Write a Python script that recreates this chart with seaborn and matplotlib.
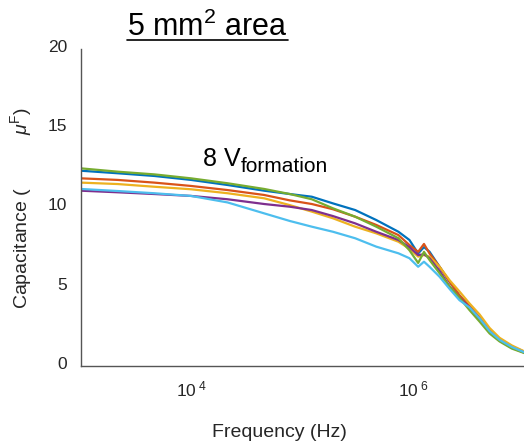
import matplotlib
matplotlib.use("Agg")
import matplotlib.pyplot as plt
from matplotlib.lines import Line2D
from matplotlib.transforms import ScaledTranslation
import seaborn as sns
import pandas as pd

# ---- data ----
freq_hz = [1e3, 2.14e3, 4.57e3, 9.8e3, 2.09e4, 4.47e4, 7.6e4, 1.2e5, 1.86e5,
           2.95e5, 4.57e5, 7.24e5, 9.1e5, 1.09e6, 1.23e6, 1.38e6, 1.7e6,
           2.1e6, 2.57e6, 3.16e6, 3.9e6, 4.8e6, 5.9e6, 7.6e6, 1e7]
cap_s1 = [12.32, 12.16, 11.99, 11.74, 11.42, 11.06, 10.85, 10.68, 10.26, 9.84,
          9.21, 8.47, 7.95, 7.1, 7.5, 7.21, 6.26, 5.3, 4.45, 3.75, 3.0, 2.2,
          1.65, 1.2, 0.85]
cap_s2 = [11.84, 11.74, 11.57, 11.36, 11.1, 10.79, 10.45, 10.22, 9.89, 9.42,
          8.9, 8.26, 7.63, 7.2, 7.7, 7.1, 6.26, 5.3, 4.45, 3.8, 3.05, 2.25,
          1.7, 1.25, 0.88]
cap_s3 = [11.57, 11.48, 11.31, 11.15, 10.9, 10.58, 10.15, 9.74, 9.32, 8.79,
          8.37, 7.84, 7.4, 6.9, 7.0, 6.9, 6.26, 5.4, 4.7, 3.95, 3.25, 2.4,
          1.78, 1.3, 0.9]
cap_s4 = [11.06, 10.96, 10.85, 10.73, 10.52, 10.22, 10.05, 9.84, 9.46, 9.0,
          8.47, 7.95, 7.5, 7.0, 7.05, 6.8, 6.0, 5.0, 4.3, 3.7, 2.95, 2.15,
          1.6, 1.15, 0.82]
cap_s5 = [12.47, 12.26, 12.09, 11.84, 11.53, 11.17, 10.85, 10.52, 9.95, 9.42,
          8.79, 8.06, 7.3, 6.5, 7.2, 6.69, 5.85, 5.0, 4.3, 3.53, 2.8, 2.05,
          1.55, 1.1, 0.8]
cap_s6 = [11.17, 11.04, 10.9, 10.73, 10.32, 9.63, 9.15, 8.79, 8.47, 8.06,
          7.53, 7.11, 6.8, 6.26, 6.58, 6.26, 5.63, 4.85, 4.15, 3.7, 3.0, 2.2,
          1.65, 1.2, 0.85]
series_names = ["S1", "S2", "S3", "S4", "S5", "S6"]
series_vals = [cap_s1, cap_s2, cap_s3, cap_s4, cap_s5, cap_s6]
colors = ["#0072BD", "#D95319", "#EDB120", "#7E2F8E", "#77AC30", "#4DBEEE"]
y_ticks = [0, 5, 10, 15, 20]
x_ticks = [1e4, 1e6]
x_tick_labels = [r"$\mathregular{10^{\ 4}}$", r"$\mathregular{10^{\ 6}}$"]

rows = []
for name, vals in zip(series_names, series_vals):
    for f, c in zip(freq_hz, vals):
        rows.append({"freq": f, "cap": c, "series": name})
df = pd.DataFrame(rows)

sns.set_style("white")
plt.rcParams["font.family"] = ["Liberation Sans", "DejaVu Sans"]
plt.rcParams["mathtext.fontset"] = "custom"
plt.rcParams["mathtext.rm"] = "Liberation Sans"
plt.rcParams["mathtext.it"] = "Liberation Sans:italic"
plt.rcParams["mathtext.bf"] = "Liberation Sans:bold"

fig = plt.figure(figsize=(5.24, 4.42), dpi=100)
ax = fig.add_axes([81 / 524, 76 / 442, 444 / 524, 317 / 442])

sns.lineplot(data=df, x="freq", y="cap", hue="series", palette=colors,
             linewidth=1.6, legend=False, ax=ax, sort=False)

ax.set_xscale("log")
ax.set_xlim(1e3, 1e7)
ax.set_ylim(0, 20)
ax.set_xticks(x_ticks)
ax.set_xticklabels(x_tick_labels)
ax.xaxis.set_minor_locator(matplotlib.ticker.NullLocator())
ax.set_yticks(y_ticks)
ax.set_yticklabels([str(v) for v in y_ticks])

for s in ["top", "right"]:
    ax.spines[s].set_visible(False)
for s in ["left", "bottom"]:
    ax.spines[s].set_color("#555555")
    ax.spines[s].set_linewidth(1.0)

ax.tick_params(axis="both", direction="in", length=4, width=0.8,
               color="#555555", labelcolor="#262626", labelsize=12.5)
ax.tick_params(axis="y", pad=10)
ax.tick_params(axis="x", pad=10)

# y tick labels sit slightly above their ticks in the reference
offset = ScaledTranslation(0, 3 / 100, fig.dpi_scale_trans)
for lab in ax.get_yticklabels():
    lab.set_transform(lab.get_transform() + offset)

ax.set_xlabel("Frequency (Hz)", fontsize=14, color="#262626")
ax.xaxis.set_label_coords(0.448, -0.183)
ax.set_ylabel(r"Capacitance (          $\mu^{\mathregular{F}}$)", fontsize=14,
              color="#262626")
ax.yaxis.set_label_coords(-0.105, 0.5)

# title with underline
fig.text(127 / 524, 1 - 36 / 442, r"$\mathregular{5\ mm^{2}\ area}$",
         fontsize=22, color="black", ha="left", va="baseline")
fig.add_artist(Line2D([127 / 524, 288 / 524], [1 - 40 / 442, 1 - 40 / 442],
                      color="black", linewidth=1.2))

# annotation
fig.text(203 / 524, 1 - 166 / 442, "8 V", fontsize=18, ha="left",
         va="baseline", color="black")
fig.text(241 / 524, 1 - 172 / 442, "formation", fontsize=15, ha="left",
         va="baseline", color="black")

fig.savefig("out.png", dpi=100)
